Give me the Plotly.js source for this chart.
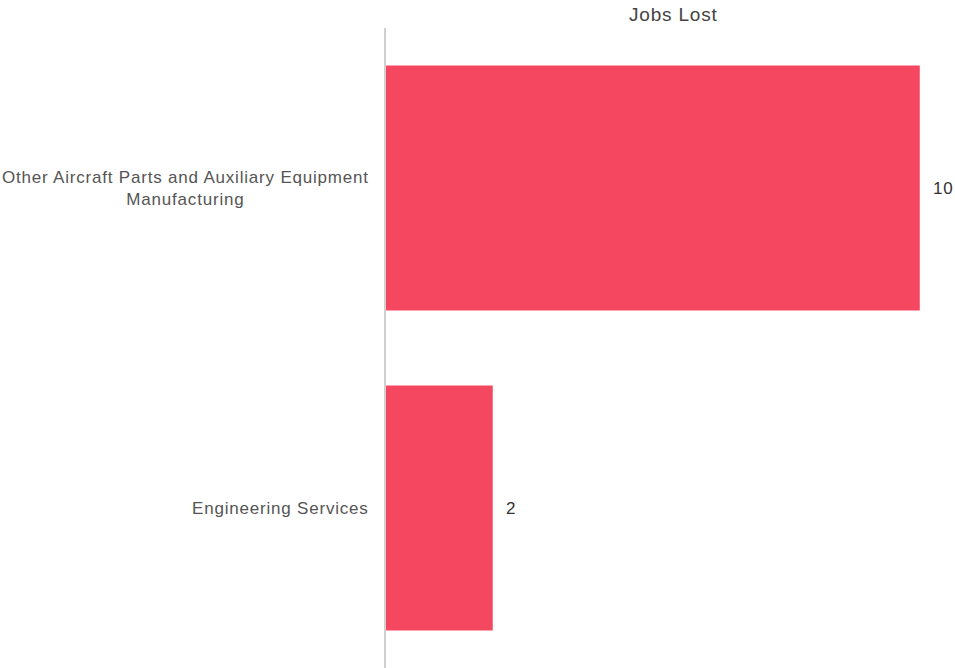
<!DOCTYPE html>
<html>
<head>
<meta charset="utf-8">
<script src="https://cdn.plot.ly/plotly-3.0.1.min.js"></script>
<style>
html,body{margin:0;padding:0;background:#fff;}
#chart{width:955px;height:668px;}
svg text{letter-spacing:0.8px;}
</style>
</head>
<body>
<div id="chart"></div>
<script>
var categories = ["Other Aircraft Parts and Auxiliary Equipment<br>Manufacturing", "Engineering Services"];
var jobsLost = [10, 2];
var seriesName = "Jobs Lost";

var FONT = 'Liberation Sans, Arial, sans-serif';

var trace = {
  type: 'bar',
  orientation: 'h',
  y: categories,
  x: jobsLost,
  marker: {color: '#F5475F'},
  hoverinfo: 'none'
};

var catLabels = categories.map(function(c){
  return {
    xref: 'paper', yref: 'y', x: 0, y: c,
    xanchor: 'right', yanchor: 'middle', xshift: -15,
    text: c, align: 'center', showarrow: false,
    font: {family: FONT, size: 17, color: '#555'}
  };
});

var valueLabels = categories.map(function(c, i){
  return {
    xref: 'x', yref: 'y', x: jobsLost[i], y: c,
    xanchor: 'left', yanchor: 'middle', xshift: 11,
    text: String(jobsLost[i]), showarrow: false,
    font: {family: FONT, size: 17, color: '#333'}
  };
});

var layout = {
  width: 955, height: 668,
  margin: {l: 386, r: 0, t: 28, b: 0, pad: 0},
  paper_bgcolor: '#fff', plot_bgcolor: '#fff',
  title: {text: seriesName, x: 0.705, xanchor: 'center', y: 0.978, yanchor: 'middle',
          font: {family: FONT, size: 19, color: '#444'}},
  bargap: 0.235,
  xaxis: {range: [0, 10.66], showgrid: false, zeroline: false, showticklabels: false, showline: false, ticks: ''},
  yaxis: {type: 'category', categoryorder: 'array', categoryarray: categories, autorange: 'reversed',
          showticklabels: false, showline: true, linecolor: '#d0d0d0', linewidth: 2, ticks: '', showgrid: false, zeroline: false},
  annotations: catLabels.concat(valueLabels),
  showlegend: false
};

Plotly.newPlot('chart', [trace], layout, {displayModeBar: false, staticPlot: true});
</script>
</body>
</html>
